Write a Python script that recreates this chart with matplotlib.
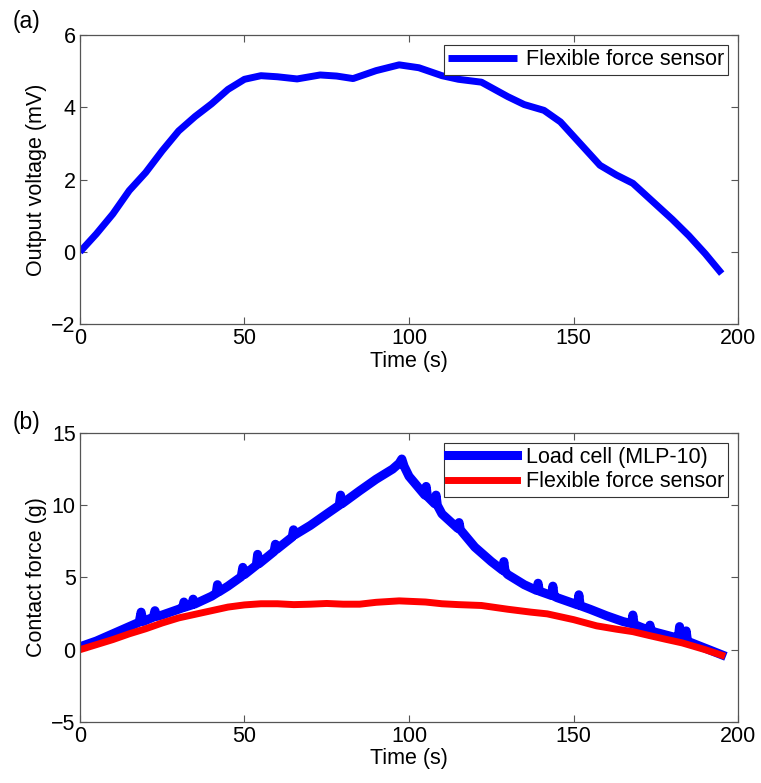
import matplotlib

matplotlib.use("Agg")

import matplotlib.pyplot as plt

plt.rcParams["font.family"] = ["Liberation Sans", "DejaVu Sans"]
plt.rcParams["font.size"] = 15.5

# (a) flexible sensor output voltage
time_a = [0, 5, 10, 15, 20, 25, 30, 35, 40, 45, 50, 55, 60, 66, 73, 78, 83, 90,
          97, 103, 110, 115, 122, 130, 135, 141, 146, 152, 158, 163, 168, 174,
          180, 185, 190, 195]
voltage_a = [0.0, 0.5, 1.05, 1.7, 2.2, 2.8, 3.35, 3.75, 4.1, 4.5, 4.78, 4.88,
             4.85, 4.79, 4.9, 4.87, 4.8, 5.02, 5.18, 5.1, 4.88, 4.78, 4.7, 4.3,
             4.08, 3.92, 3.6, 3.0, 2.4, 2.13, 1.9, 1.4, 0.9, 0.45, -0.05, -0.6]

# (b) load cell reference, spikes included
time_load = [0, 5, 10, 15, 18, 18.6, 19.2, 22.3, 22.8, 23.3, 25, 30, 31.2, 31.6,
             32, 34, 34.4, 34.8, 40, 41.4, 41.8, 42.2, 45, 49, 49.5, 50, 53.6,
             54, 54.4, 59, 59.4, 59.8, 64.5, 64.9, 65.3, 70, 75, 78.8, 79.2,
             79.6, 85, 90, 95, 97, 97.8, 98.5, 100, 104.8, 105.2, 105.6, 107.8,
             108.2, 108.6, 110, 114.8, 115.2, 115.6, 120, 125, 128.4, 128.8,
             129.2, 130, 135, 138.8, 139.2, 139.6, 143.3, 143.7, 144.1, 145,
             150, 151.2, 151.6, 152, 155, 160, 165, 167.6, 168, 168.4, 170,
             172.8, 173.2, 173.6, 175, 180, 181.8, 182.2, 182.6, 183.8, 184.2,
             184.6, 185, 190, 195]
force_load = [0.2, 0.6, 1.1, 1.6, 1.9, 2.6, 1.95, 2.25, 2.7, 2.3, 2.4, 2.8, 2.9,
              3.3, 2.95, 3.1, 3.5, 3.15, 3.7, 3.9, 4.5, 4.0, 4.4, 5.05, 5.7, 5.2,
              5.85, 6.6, 5.95, 6.8, 7.3, 6.95, 7.8, 8.3, 7.95, 8.6, 9.4, 10.0,
              10.7, 10.1, 11.0, 11.8, 12.5, 12.9, 13.2, 12.7, 12.0, 10.7, 11.3,
              10.6, 10.1, 10.7, 10.0, 9.4, 8.4, 8.8, 8.3, 7.1, 6.1, 5.5, 6.1,
              5.4, 5.2, 4.5, 4.1, 4.6, 4.05, 3.75, 4.4, 3.7, 3.6, 3.2, 3.1, 3.8,
              3.05, 2.8, 2.35, 1.95, 1.8, 2.4, 1.75, 1.6, 1.35, 1.7, 1.3, 1.2,
              0.9, 0.8, 1.6, 0.75, 0.65, 1.3, 0.6, 0.55, 0.1, -0.35]

# (b) flexible sensor converted to force
time_flex = [0, 5, 10, 15, 20, 25, 30, 35, 40, 45, 50, 55, 60, 65, 70, 75, 80,
             85, 90, 97, 105, 110, 115, 122, 130, 137, 142, 150, 157, 163, 168,
             173, 178, 183, 190, 195]
force_flex = [0.0, 0.35, 0.7, 1.1, 1.45, 1.85, 2.2, 2.45, 2.7, 2.95, 3.1, 3.18,
              3.18, 3.12, 3.15, 3.2, 3.15, 3.15, 3.28, 3.38, 3.3, 3.18, 3.12,
              3.06, 2.8, 2.6, 2.48, 2.08, 1.65, 1.42, 1.25, 0.98, 0.72, 0.47,
              0.0, -0.38]

x_ticks = [0, 50, 100, 150, 200]
y_ticks_a = [-2, 0, 2, 4, 6]
y_ticks_b = [-5, 0, 5, 10, 15]

fig = plt.figure(figsize=(7.61, 7.83), dpi=100)
ax_a = fig.add_axes([0.105, 0.586, 0.865, 0.369])
ax_b = fig.add_axes([0.105, 0.078, 0.865, 0.369])


def style_axes(ax, yticks):
    ax.set_xlim(0, 200)
    ax.set_ylim(yticks[0], yticks[-1])
    ax.set_xticks(x_ticks)
    ax.set_yticks(yticks)
    ax.tick_params(direction="in", top=True, right=True, length=5,
                   width=0.8, color="#555555", labelsize=15.5, pad=3)
    for spine in ax.spines.values():
        spine.set_color("#555555")
        spine.set_linewidth(0.9)
    ax.set_xlabel("Time (s)", fontsize=15.5, labelpad=1)


ax_a.plot(time_a, voltage_a, color="#0000ff", lw=5, solid_capstyle="butt",
          solid_joinstyle="round", label="Flexible force sensor")
style_axes(ax_a, y_ticks_a)
ax_a.set_ylabel("Output voltage (mV)", fontsize=15.5, labelpad=3)

ax_b.plot(time_load, force_load, color="#0000ff", lw=6.5, solid_joinstyle="round",
          label="Load cell (MLP-10)")
ax_b.plot(time_flex, force_flex, color="#ff0000", lw=5, solid_joinstyle="round",
          label="Flexible force sensor")
style_axes(ax_b, y_ticks_b)
ax_b.set_ylabel("Contact force (g)", fontsize=15.5, labelpad=3)

for ax in (ax_a, ax_b):
    leg = ax.legend(loc="upper right", fontsize=15.5, fancybox=False,
                    framealpha=1, edgecolor="#333333", handlelength=3.2,
                    borderaxespad=0.45, borderpad=0.2, labelspacing=0.15,
                    handletextpad=0.4)
    leg.get_frame().set_linewidth(0.8)

fig.text(0.016, 0.972, "(a)", fontsize=16.5, va="center")
fig.text(0.016, 0.461, "(b)", fontsize=16.5, va="center")

fig.savefig("out.png", dpi=100)
